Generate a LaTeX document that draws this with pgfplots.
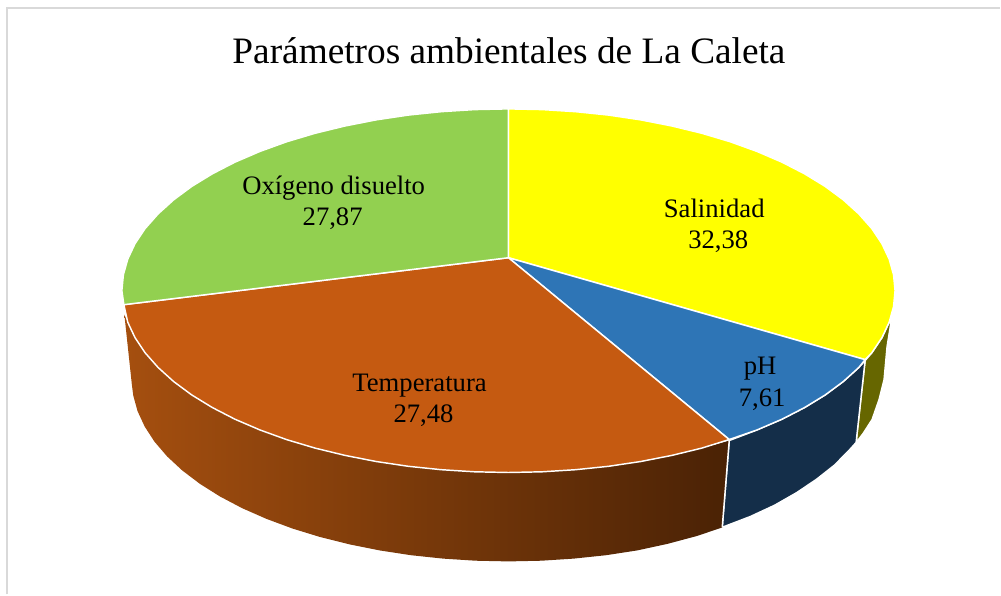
\documentclass[border=0pt]{standalone}
\usepackage{fontspec}
\setmainfont{Liberation Serif}
\usepackage{pgfplots}
\pgfplotsset{compat=1.18}
\definecolor{sal}{HTML}{FFFF00}
\definecolor{salside}{HTML}{666600}
\definecolor{phc}{HTML}{2E75B6}
\definecolor{phside}{HTML}{142E49}
\definecolor{tempc}{HTML}{C55A11}
\definecolor{templ}{HTML}{A54F0F}
\definecolor{tempr}{HTML}{4A2205}
\definecolor{oxi}{HTML}{92D050}
\definecolor{marco}{HTML}{D9D9D9}
\begin{document}
\begin{tikzpicture}
\begin{axis}[
  scale only axis, width=750.75pt, height=446.25pt,
  xmin=0, xmax=1001, ymin=0, ymax=595, y dir=reverse,
  hide axis, clip=false,
]
% tamano completo de la pagina
\path (axis cs:0,0) -- (axis cs:1001,595);
% marco
\addplot[marco, line width=1.6pt] coordinates {(7,595) (7,8) (1001,8)};
% lados (curva inferior)
\addplot[draw=white, line width=1.1pt, fill=salside] coordinates {
  (893,316) (888,347) (885,380) (880,400) (873,420) (864,434) (857,443) (866,361)
  (872.7,353.2) (882.8,338.1) (890.1,322.6)} -- cycle;
\addplot[draw=white, line width=1.1pt, fill=phside] coordinates {
  (866,361) (857,443) (850.7,450) (835.5,465.5) (817.8,479.5) (797.8,493) (775.6,505.7)
  (751.3,517) (725.2,527) (723,528) (730,441) (757.8,430.4) (782.7,419.7) (805.4,408)
  (826,395.4) (844.1,382) (859.7,367.9)} -- cycle;
\addplot[draw=none, left color=templ, right color=tempr] coordinates {
  (730,441) (723,528) (697.5,536.6) (668.3,544.4) (637.9,551) (606.6,555.8) (574.4,559.2)
  (541.9,561.3) (509,562) (476.1,561.3) (443.6,559.2) (411.4,555.8) (380.1,551)
  (349.7,544.9) (320.5,537.6) (292.8,529.1) (266.7,519.4) (242.4,508.7) (220.2,497)
  (200.2,484.4) (182.5,471) (167.3,456.9) (154.7,442.2) (144.9,427.1) (137.7,411.6)
  (133.4,395.9) (132,385) (124.5,315) (127.9,322.6) (135.2,338.1) (145.3,353.2)
  (158.3,367.9) (173.9,382) (192,395.4) (212.6,408) (235.3,419.7) (260.2,430.4)
  (287,440.1) (315.5,448.6) (345.5,455.9) (376.6,462) (408.8,466.8) (441.8,470.2)
  (475.3,472.3) (509,473) (542.7,472.3) (576.2,470.2) (609.2,466.8) (641.4,462)
  (672.5,455.9) (702.5,448.6)} -- cycle;
\addplot[white, line width=1.1pt] coordinates {(730,441) (723,528)};
% cara superior
\addplot[draw=white, line width=1.1pt, fill=sal] coordinates {
  (509,258) (509,109) (542.7,109.7) (576.2,111.8) (609.2,115.2) (641.4,120) (672.5,126.1)
  (702.5,133.4) (731,141.9) (757.8,151.6) (782.7,162.3) (805.4,174) (826,186.6) (844.1,200)
  (859.7,214.1) (872.7,228.8) (882.8,243.9) (890.1,259.4) (894.5,275.1) (896,291)
  (894.5,306.9) (890.1,322.6) (882.8,338.1) (872.7,353.2) (866,360)} -- cycle;
\addplot[draw=white, line width=1.1pt, fill=phc] coordinates {
  (509,258) (866,360) (859.7,367.9) (844.1,382) (826,395.4) (805.4,408) (782.7,419.7)
  (757.8,430.4) (730,440)} -- cycle;
\addplot[draw=white, line width=1.1pt, fill=tempc] coordinates {
  (509,258) (730,440) (702.5,448.6) (672.5,455.9) (641.4,462) (609.2,466.8) (576.2,470.2)
  (542.7,472.3) (509,473) (475.3,472.3) (441.8,470.2) (408.8,466.8) (376.6,462)
  (345.5,455.9) (315.5,448.6) (287,440.1) (260.2,430.4) (235.3,419.7) (212.6,408)
  (192,395.4) (173.9,382) (158.3,367.9) (145.3,353.2) (135.2,338.1) (127.9,322.6) (124,305)} -- cycle;
\addplot[draw=white, line width=1.1pt, fill=oxi] coordinates {
  (509,258) (124,305) (122,291) (123.5,275.1) (127.9,259.4) (135.2,243.9) (145.3,228.8)
  (158.3,214.1) (173.9,200) (192,186.6) (212.6,174) (235.3,162.3) (260.2,151.6) (287,141.9)
  (315.5,133.4) (345.5,126.1) (376.6,120) (408.8,115.2) (441.8,111.8) (475.3,109.7) (509,109)} -- cycle;
% textos
\node[anchor=base, font=\fontsize{28}{32}\selectfont] at (axis cs:509.5,64) {Parámetros ambientales de La Caleta};
\node[anchor=base, font=\fontsize{20}{24}\selectfont] at (axis cs:715,217.5) {Salinidad};
\node[anchor=base, font=\fontsize{20}{24}\selectfont] at (axis cs:719,249) {32,38};
\node[anchor=base, font=\fontsize{20}{24}\selectfont] at (axis cs:761,375) {pH};
\node[anchor=base, font=\fontsize{20}{24}\selectfont] at (axis cs:763,406.5) {7,61};
\node[anchor=base, font=\fontsize{20}{24}\selectfont] at (axis cs:420,391.5) {Temperatura};
\node[anchor=base, font=\fontsize{20}{24}\selectfont] at (axis cs:424,423) {27,48};
\node[anchor=base, font=\fontsize{20}{24}\selectfont] at (axis cs:334,195) {Oxígeno disuelto};
\node[anchor=base, font=\fontsize{20}{24}\selectfont] at (axis cs:333,226) {27,87};
\end{axis}
\end{tikzpicture}
\end{document}
